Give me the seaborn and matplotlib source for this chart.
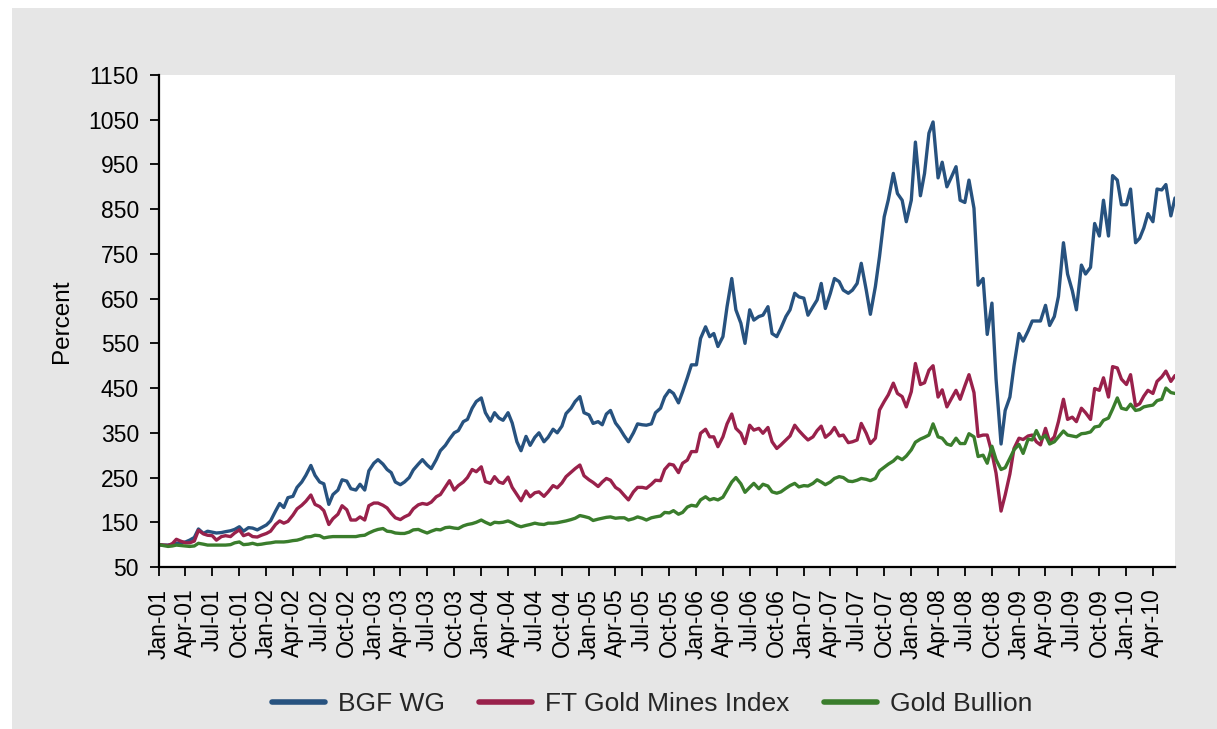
import numpy as np
import pandas as pd
import matplotlib
matplotlib.use("Agg")
import matplotlib.pyplot as plt
import matplotlib.dates as mdates
import seaborn as sns

# Semi-monthly observations, Jan 2001 .. Jun 2010 (index, Jan 2001 = 100)
dates = pd.date_range("2001-01-01", periods=228, freq="SMS")

bgf_wg = [
    100, 99, 99, 101, 103, 104, 106, 110, 116, 135,
    125, 130, 128, 126, 127, 129, 131, 134, 140, 130,
    138, 137, 133, 138, 144, 153, 175, 192, 183, 205,
    208, 228, 240, 255, 277, 255, 240, 236, 190, 212,
    222, 245, 242, 225, 222, 235, 222, 265, 282, 290,
    280, 268, 261, 240, 234, 240, 250, 267, 280, 290,
    278, 270, 290, 310, 322, 336, 350, 355, 375, 380,
    405, 420, 428, 395, 376, 395, 383, 378, 395, 372,
    330, 310, 342, 322, 340, 350, 330, 340, 358, 350,
    365, 393, 405, 420, 431, 395, 390, 371, 375, 368,
    392, 400, 372, 360, 343, 330, 350, 370, 368, 367,
    370, 395, 405, 430, 445, 438, 417, 442, 473, 502,
    502, 561, 587, 565, 572, 543, 565, 632, 695, 625,
    595, 550, 625, 602, 610, 613, 632, 572, 565, 584,
    610, 625, 662, 654, 651, 613, 632, 647, 684, 628,
    662, 695, 688, 669, 662, 669, 684, 729, 669, 615,
    677, 744, 833, 871, 930, 885, 870, 822, 870, 1000,
    880, 930, 1020, 1045, 920, 955, 900, 920, 945, 870,
    865, 915, 852, 680, 695, 570, 640, 470, 325, 400,
    430, 500, 572, 555, 578, 600, 600, 600, 635, 590,
    610, 655, 775, 705, 668, 625, 725, 705, 720, 818,
    790, 870, 790, 925, 915, 860, 860, 895, 775, 785,
    808, 840, 822, 895, 893, 905, 835, 875,
]

ft_gold_mines = [
    100, 99, 98, 102, 112, 108, 104, 104, 108, 132,
    124, 121, 120, 110, 118, 120, 118, 126, 133, 120,
    124, 118, 117, 121, 125, 130, 145, 153, 148, 152,
    166, 180, 188, 197, 211, 190, 185, 176, 145, 158,
    168, 187, 178, 155, 155, 162, 155, 187, 193, 193,
    188, 182, 170, 160, 156, 162, 167, 180, 189, 192,
    190, 195, 207, 212, 229, 243, 222, 232, 240, 250,
    268, 263, 274, 241, 237, 252, 240, 237, 251, 228,
    212, 198, 220, 207, 216, 218, 208, 218, 232, 227,
    238, 252, 262, 270, 278, 254, 245, 239, 230, 240,
    248, 244, 228, 222, 210, 200, 218, 228, 228, 226,
    235, 244, 243, 268, 280, 278, 261, 282, 289, 308,
    308, 349, 358, 341, 341, 319, 341, 370, 392, 360,
    349, 326, 367, 356, 360, 349, 362, 330, 315, 323,
    334, 343, 367, 355, 343, 334, 341, 355, 365, 340,
    349, 362, 343, 345, 328, 330, 334, 371, 349, 326,
    338, 401, 420, 435, 461, 438, 431, 408, 442, 505,
    458, 462, 490, 500, 430, 446, 408, 425, 445, 425,
    455, 480, 440, 342, 345, 345, 305, 260, 175, 211,
    258, 315, 338, 335, 343, 345, 330, 323, 360, 330,
    341, 375, 425, 380, 385, 375, 405, 395, 380, 449,
    445, 473, 430, 498, 495, 470, 458, 480, 410, 415,
    432, 445, 438, 465, 475, 488, 465, 478,
]

gold_bullion = [
    100, 98, 96, 97, 99, 98, 97, 96, 97, 103,
    101, 99, 99, 99, 99, 99, 100, 104, 106, 100,
    101, 103, 100, 101, 103, 104, 106, 106, 106, 107,
    109, 110, 113, 117, 118, 121, 120, 115, 117, 118,
    118, 118, 118, 118, 118, 120, 121, 126, 131, 134,
    136, 130, 129, 126, 125, 125, 128, 133, 134, 130,
    126, 130, 134, 133, 138, 139, 137, 136, 142, 145,
    147, 150, 155, 150, 145, 150, 149, 150, 153, 149,
    143, 140, 143, 145, 148, 146, 145, 148, 148, 149,
    151, 153, 156, 159, 165, 163, 160, 154, 157, 159,
    161, 162, 159, 160, 160, 155, 158, 162, 159, 155,
    160, 162, 164, 172, 171, 176, 168, 172, 184, 188,
    186, 200, 207, 200, 203, 200, 206, 222, 240, 250,
    236, 217, 228, 237, 225, 235, 231, 218, 215, 218,
    226, 232, 237, 229, 232, 231, 237, 245, 240, 234,
    240, 248, 252, 250, 242, 241, 244, 248, 246, 243,
    248, 265, 273, 280, 287, 296, 290, 298, 312, 329,
    336, 340, 345, 370, 341, 338, 325, 322, 338, 326,
    326, 348, 341, 297, 300, 282, 320, 290, 268, 272,
    293, 312, 324, 304, 336, 334, 355, 336, 344, 325,
    330, 341, 354, 345, 343, 341, 348, 349, 352, 363,
    365, 378, 383, 403, 428, 405, 402, 414, 400, 402,
    408, 410, 412, 422, 425, 450, 440, 438,
]

series_names = ["BGF WG", "FT Gold Mines Index", "Gold Bullion"]
series_colors = ["#27527f", "#99214b", "#3a7d2c"]
y_ticks = list(range(50, 1151, 100))

df = pd.concat([
    pd.DataFrame({"date": dates, "value": vals, "series": name})
    for name, vals in zip(series_names, [bgf_wg, ft_gold_mines, gold_bullion])
], ignore_index=True)

sns.set_theme(style="ticks")
plt.rcParams["font.family"] = ["Liberation Sans", "DejaVu Sans"]

fig = plt.figure(figsize=(12.17, 7.29), dpi=100)
fig.patch.set_facecolor("white")
# grey panel behind the chart
fig.patches.append(matplotlib.patches.Rectangle(
    (12 / 1217, 0), 1 - 12 / 1217, 1 - 8 / 729, transform=fig.transFigure,
    facecolor="#e6e6e6", edgecolor="none", zorder=-10))

ax = fig.add_axes([159 / 1217, 1 - 567 / 729, (1175 - 159) / 1217, (567 - 75) / 729])
ax.set_facecolor("white")

sns.lineplot(data=df, x="date", y="value", hue="series", hue_order=series_names,
             palette=series_colors, linewidth=2.4, ax=ax, legend=True)

handles, labels = ax.get_legend_handles_labels()
ax.get_legend().remove()

ax.set_ylim(50, 1150)
ax.set_yticks(y_ticks)
ax.set_xlim(dates[0], dates[-1])
ax.xaxis.set_major_locator(mdates.MonthLocator(bymonth=[1, 4, 7, 10]))
ax.xaxis.set_major_formatter(mdates.DateFormatter("%b-%y"))
plt.setp(ax.get_xticklabels(), rotation=90)

ax.set_xlabel("")
ax.set_ylabel("Percent", fontsize=17.5, labelpad=11, color="black")

for side in ["top", "right"]:
    ax.spines[side].set_visible(False)
for side in ["left", "bottom"]:
    ax.spines[side].set_color("black")
    ax.spines[side].set_linewidth(1.6)

ax.tick_params(axis="both", direction="out", length=6.5, width=1.3, colors="black",
               labelsize=16.5)
ax.tick_params(axis="x", pad=9)
ax.tick_params(axis="y", pad=8)

for h in handles:
    h.set_linewidth(4)
leg = fig.legend(handles, labels, loc="center", ncol=3,
                 bbox_to_anchor=(652 / 1217, 1 - 704 / 729),
                 frameon=False, fontsize=19, handlelength=2.0,
                 handletextpad=0.5, columnspacing=1.3)

fig.savefig("out.png", dpi=100, facecolor=fig.get_facecolor())
